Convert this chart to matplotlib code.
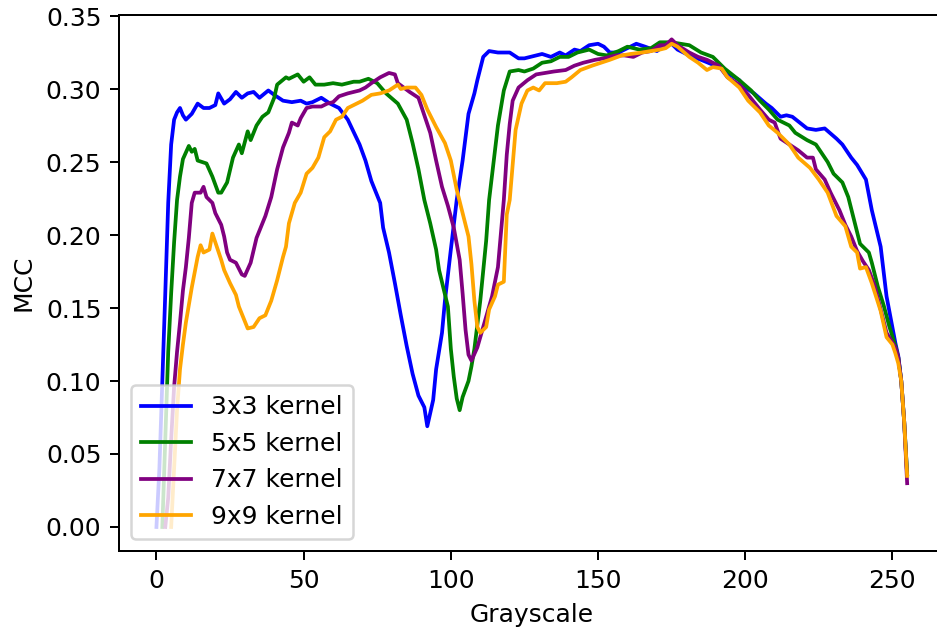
import numpy as np
import matplotlib
matplotlib.use("Agg")
import matplotlib.pyplot as plt

# MCC vs grayscale threshold for each kernel size
x_3 = [0, 1, 2, 3, 4, 5, 6, 7, 8, 9, 10, 12, 14, 16, 18, 20, 21, 23, 25, 27, 29, 31, 33, 35, 38,
       40, 43, 46, 49, 51, 53, 56, 59, 62, 65, 69, 71, 73, 76, 77, 79, 81, 83, 85, 87, 89, 91, 92,
       94, 95, 97, 98, 100, 102, 104, 106, 108, 109, 111, 113, 116, 120, 123, 125, 129, 131, 134,
       137, 139, 142, 144, 147, 150, 152, 154, 157, 160, 163, 166, 170, 172, 175, 177, 182, 185,
       191, 194, 198, 200, 203, 207, 209, 212, 214, 216, 221, 224, 227, 231, 233, 236, 238, 241,
       243, 246, 248, 251, 252, 253, 254, 255]
mcc_3 = [0.0, 0.04, 0.10, 0.16, 0.222, 0.262, 0.279, 0.284, 0.287, 0.282, 0.279, 0.283, 0.290,
         0.287, 0.287, 0.289, 0.297, 0.290, 0.293, 0.298, 0.294, 0.297, 0.298, 0.294, 0.299, 0.296,
         0.292, 0.291, 0.292, 0.290, 0.291, 0.294, 0.290, 0.287, 0.279, 0.262, 0.251, 0.237, 0.222,
         0.205, 0.188, 0.167, 0.145, 0.124, 0.105, 0.090, 0.082, 0.069, 0.087, 0.108, 0.133, 0.155,
         0.190, 0.224, 0.251, 0.283, 0.297, 0.306, 0.322, 0.326, 0.325, 0.325, 0.321, 0.321, 0.323,
         0.324, 0.322, 0.325, 0.323, 0.327, 0.326, 0.330, 0.331, 0.329, 0.325, 0.325, 0.328, 0.331,
         0.329, 0.326, 0.329, 0.331, 0.327, 0.322, 0.320, 0.315, 0.311, 0.306, 0.301, 0.297, 0.290,
         0.287, 0.281, 0.282, 0.281, 0.273, 0.272, 0.273, 0.266, 0.262, 0.253, 0.248, 0.238, 0.217,
         0.192, 0.158, 0.126, 0.117, 0.100, 0.072, 0.036]

x_5 = [2, 3, 4, 5, 6, 7, 8, 9, 11, 12, 13, 14, 17, 19, 21, 22, 24, 26, 28, 29, 31, 32, 34, 36, 38,
       40, 41, 44, 45, 48, 50, 52, 54, 57, 60, 63, 67, 69, 72, 75, 78, 82, 85, 87, 89, 91, 93, 95,
       96, 99, 100, 101, 102, 103, 104, 106, 107, 108, 110, 112, 113, 116, 118, 120, 123, 125, 128,
       131, 134, 137, 140, 143, 147, 150, 153, 157, 160, 164, 168, 171, 175, 181, 185, 189, 193,
       198, 202, 205, 208, 211, 215, 217, 221, 224, 228, 230, 233, 235, 237, 239, 242, 243, 245,
       247, 249, 251, 252, 253, 254, 255]
mcc_5 = [0.0, 0.06, 0.12, 0.16, 0.195, 0.224, 0.240, 0.252, 0.261, 0.257, 0.259, 0.251, 0.249,
         0.240, 0.229, 0.229, 0.236, 0.253, 0.262, 0.256, 0.271, 0.265, 0.275, 0.281, 0.284, 0.294,
         0.303, 0.308, 0.307, 0.310, 0.305, 0.308, 0.303, 0.303, 0.304, 0.303, 0.305, 0.305, 0.307,
         0.304, 0.297, 0.290, 0.279, 0.263, 0.245, 0.224, 0.208, 0.190, 0.176, 0.151, 0.122, 0.103,
         0.088, 0.080, 0.089, 0.100, 0.110, 0.122, 0.155, 0.196, 0.224, 0.275, 0.299, 0.312, 0.313,
         0.312, 0.314, 0.318, 0.319, 0.322, 0.322, 0.325, 0.327, 0.324, 0.323, 0.326, 0.329, 0.327,
         0.328, 0.332, 0.332, 0.330, 0.325, 0.322, 0.314, 0.306, 0.299, 0.292, 0.286, 0.279, 0.275,
         0.270, 0.265, 0.262, 0.250, 0.242, 0.236, 0.226, 0.210, 0.194, 0.188, 0.181, 0.165, 0.152,
         0.137, 0.124, 0.116, 0.100, 0.072, 0.036]

x_7 = [3, 4, 5, 6, 7, 8, 9, 10, 11, 12, 13, 15, 16, 17, 19, 20, 22, 23, 24, 25, 27, 29, 30, 32, 34,
       36, 37, 39, 41, 43, 45, 46, 48, 49, 51, 53, 56, 58, 60, 62, 65, 69, 71, 73, 76, 79, 81, 82,
       86, 89, 90, 93, 95, 97, 99, 101, 103, 104, 105, 106, 107, 109, 111, 114, 116, 117, 118, 119,
       120, 121, 123, 126, 129, 132, 135, 139, 142, 145, 149, 152, 156, 159, 162, 165, 168, 171,
       173, 175, 177, 181, 184, 187, 191, 194, 198, 201, 205, 208, 210, 212, 215, 218, 221, 223,
       224, 227, 229, 232, 234, 236, 238, 240, 242, 244, 246, 248, 251, 252, 253, 254, 255]
mcc_7 = [0.0, 0.02, 0.06, 0.096, 0.120, 0.140, 0.162, 0.178, 0.198, 0.222, 0.229, 0.229, 0.233,
         0.226, 0.222, 0.215, 0.207, 0.199, 0.188, 0.183, 0.181, 0.173, 0.172, 0.181, 0.198, 0.208,
         0.213, 0.226, 0.245, 0.260, 0.270, 0.277, 0.275, 0.280, 0.287, 0.288, 0.288, 0.290, 0.291,
         0.295, 0.297, 0.299, 0.301, 0.304, 0.308, 0.311, 0.310, 0.304, 0.298, 0.294, 0.288, 0.270,
         0.251, 0.233, 0.220, 0.205, 0.183, 0.160, 0.135, 0.118, 0.114, 0.123, 0.137, 0.158, 0.178,
         0.201, 0.224, 0.255, 0.276, 0.292, 0.301, 0.306, 0.310, 0.311, 0.312, 0.313, 0.316, 0.318,
         0.320, 0.321, 0.323, 0.323, 0.322, 0.325, 0.326, 0.330, 0.330, 0.334, 0.330, 0.325, 0.322,
         0.320, 0.316, 0.308, 0.303, 0.296, 0.286, 0.279, 0.277, 0.266, 0.262, 0.258, 0.253, 0.253,
         0.245, 0.238, 0.229, 0.217, 0.207, 0.199, 0.189, 0.182, 0.176, 0.165, 0.149, 0.133, 0.123,
         0.116, 0.100, 0.072, 0.030]

x_9 = [5, 6, 7, 8, 9, 10, 11, 12, 14, 15, 16, 18, 19, 20, 22, 23, 25, 27, 28, 31, 33, 35, 37, 39,
       41, 43, 44, 45, 47, 49, 51, 53, 55, 57, 59, 61, 63, 65, 68, 70, 73, 76, 79, 82, 83, 85, 88,
       90, 92, 95, 98, 100, 102, 104, 106, 107, 108, 109, 110, 112, 113, 115, 116, 118, 119, 120,
       122, 124, 126, 128, 130, 132, 136, 139, 141, 144, 148, 151, 154, 158, 161, 165, 168, 171,
       173, 175, 177, 181, 184, 187, 189, 192, 194, 198, 201, 205, 208, 211, 215, 218, 222, 225,
       228, 231, 234, 236, 238, 239, 241, 243, 246, 248, 250, 251, 252, 253, 254, 255]
mcc_9 = [0.0, 0.04, 0.08, 0.108, 0.125, 0.140, 0.152, 0.164, 0.185, 0.193, 0.188, 0.190, 0.201,
         0.195, 0.183, 0.176, 0.167, 0.159, 0.151, 0.136, 0.137, 0.143, 0.145, 0.155, 0.169, 0.185,
         0.192, 0.208, 0.222, 0.229, 0.242, 0.246, 0.253, 0.267, 0.271, 0.279, 0.281, 0.287, 0.290,
         0.292, 0.296, 0.297, 0.299, 0.303, 0.300, 0.301, 0.301, 0.296, 0.286, 0.274, 0.263, 0.251,
         0.231, 0.215, 0.199, 0.180, 0.155, 0.137, 0.133, 0.137, 0.149, 0.158, 0.166, 0.168, 0.214,
         0.224, 0.272, 0.290, 0.299, 0.301, 0.299, 0.304, 0.304, 0.305, 0.308, 0.313, 0.316, 0.318,
         0.320, 0.323, 0.324, 0.325, 0.326, 0.327, 0.328, 0.331, 0.329, 0.322, 0.318, 0.313, 0.315,
         0.314, 0.308, 0.301, 0.292, 0.284, 0.275, 0.270, 0.262, 0.253, 0.246, 0.238, 0.229, 0.213,
         0.206, 0.192, 0.188, 0.177, 0.178, 0.167, 0.148, 0.130, 0.125, 0.119, 0.112, 0.100, 0.072,
         0.035]

series = [
    (x_3, mcc_3, '3x3 kernel', 'blue'),
    (x_5, mcc_5, '5x5 kernel', 'green'),
    (x_7, mcc_7, '7x7 kernel', 'purple'),
    (x_9, mcc_9, '9x9 kernel', 'orange'),
]

# original was rendered at a higher dpi, so fonts/lines look bigger
fig = plt.figure(figsize=(937 / 180, 630 / 180), dpi=180)
# axes run slightly past the right edge, like the cropped original
ax = fig.add_axes([0.1269, 0.1248, 0.8813, 0.8514])

for xs, ys, label, color in series:
    ax.plot(xs, ys, label=label, color=color, linewidth=1.5)

ax.set_xlabel('Grayscale')
ax.set_ylabel('MCC')
ax.legend(loc='lower left')

fig.savefig('out.png', dpi=180)
